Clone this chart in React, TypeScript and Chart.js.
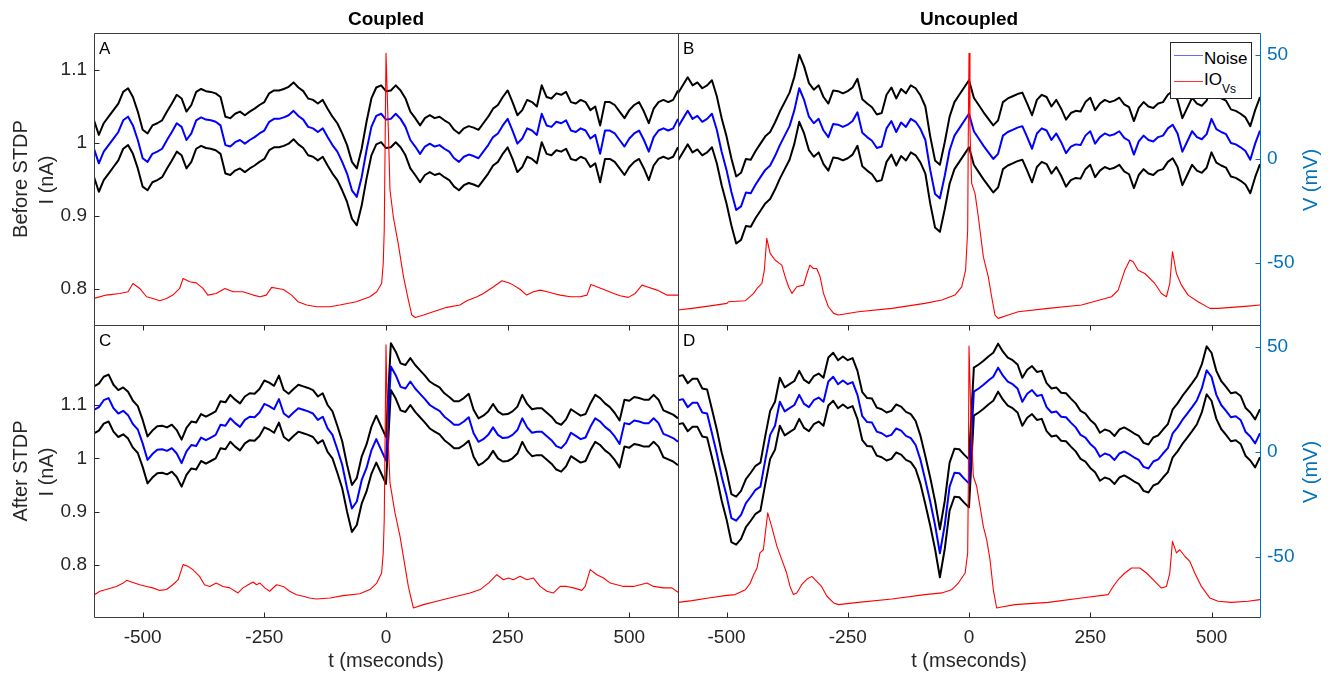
import React, { useEffect, useRef } from 'react';
import { Chart, registerables } from 'chart.js';

Chart.register(...registerables);

const W = 1333;
const H = 675;
const FONT = '"Liberation Sans", Arial, Helvetica, sans-serif';
const AXIS_COLOR = '#262626';
const FRAME_COLOR = '#3c3c3c';
const V_COLOR = '#0072BD';

// sampling of the noise traces (ms)
const T_START = -600;
const T_STEP = 10;

const xTickValues = [-500, -250, 0, 250, 500];
const iTickValues = [0.8, 0.9, 1, 1.1];
const vTickValues = [-50, 0, 50];

// ---- Noise mean current (nA), t = -600 .. 600 ms every 10 ms ----
const noiseA = [
  0.992, 0.972, 0.988, 0.997, 1.006, 1.015, 1.031, 1.036, 1.024, 1.004,
  0.979, 0.974, 0.985, 0.988, 0.992, 1.004, 1.015, 1.027, 1.022, 1.004,
  1.013, 1.031, 1.035, 1.032, 1.031, 1.029, 1.024, 0.997, 0.995, 1.001,
  1.004, 0.999, 1.004, 1.008, 1.013, 1.017, 1.029, 1.033, 1.033, 1.035,
  1.038, 1.044, 1.037, 1.032, 1.022, 1.020, 1.015, 1.020, 1.008, 0.997,
  0.988, 0.974, 0.958, 0.935, 0.926, 0.953, 0.990, 1.022, 1.037, 1.040,
  1.032,
  1.033, 1.040, 1.033, 1.022, 1.004, 0.995, 0.985, 0.995, 0.999, 0.995,
  0.997, 0.992, 0.988, 0.979, 0.974, 0.981, 0.984, 0.982, 0.979, 0.988,
  0.997, 1.008, 1.013, 1.024, 1.033, 1.017, 0.999, 1.006, 1.020, 1.017,
  1.011, 1.040, 1.024, 1.022, 1.029, 1.027, 1.031, 1.017, 1.015, 1.020,
  1.017, 1.006, 1.011, 0.985, 1.017, 1.017, 1.013, 1.004, 0.995, 1.006,
  1.013, 1.017, 1.004, 0.988, 1.008, 1.017, 1.020, 1.017, 1.020, 1.033,
];
const noiseB = [
  1.022, 1.033, 1.044, 1.033, 1.037, 1.029, 1.033, 1.040, 1.018, 0.988,
  0.963, 0.933, 0.908, 0.913, 0.932, 0.931, 0.943, 0.953, 0.963, 0.969,
  0.982, 0.997, 1.010, 1.023, 1.045, 1.075, 1.059, 1.036, 1.027, 1.033,
  1.017, 1.008, 1.026, 1.025, 1.022, 1.025, 1.030, 1.042, 1.014, 1.008,
  1.003, 0.993, 0.995, 1.020, 1.030, 1.015, 1.028, 1.022, 1.033, 1.029,
  1.019, 1.004, 0.963, 0.930, 0.924, 0.955, 0.990, 1.010, 1.020, 1.030,
  1.040,
  1.016, 1.006, 0.996, 0.987, 0.978, 0.985, 1.010, 1.015, 1.018, 1.021,
  1.023, 1.008, 0.992, 1.013, 1.020, 1.017, 1.004, 1.013, 1.001, 0.986,
  0.995, 0.998, 0.997, 1.010, 1.016, 0.999, 1.008, 1.013, 1.010, 1.012,
  1.016, 1.007, 1.003, 0.984, 1.002, 1.010, 1.004, 1.002, 1.008, 1.010,
  1.020, 1.025, 1.013, 0.988, 1.002, 1.016, 1.008, 1.005, 1.012, 1.033,
  1.019, 1.015, 1.012, 1.000, 0.998, 0.994, 0.989, 0.977, 0.999, 1.017,
];
const noiseC = [
  1.091, 1.096, 1.109, 1.113, 1.094, 1.084, 1.089, 1.081, 1.064, 1.054,
  1.028, 0.997, 1.008, 1.016, 1.017, 1.014, 1.019, 1.009, 0.991, 1.013,
  1.025, 1.023, 1.039, 1.034, 1.039, 1.044, 1.063, 1.061, 1.075, 1.066,
  1.059, 1.072, 1.078, 1.077, 1.086, 1.102, 1.098, 1.092, 1.111, 1.084,
  1.077, 1.086, 1.094, 1.091, 1.088, 1.084, 1.072, 1.078, 1.056, 1.044,
  1.017, 0.988, 0.944, 0.906, 0.919, 0.959, 0.982, 1.015, 1.036, 1.016,
  0.996,
  1.172, 1.156, 1.134, 1.131, 1.144, 1.131, 1.121, 1.111, 1.100, 1.094,
  1.089, 1.078, 1.071, 1.063, 1.063, 1.069, 1.077, 1.047, 1.031, 1.036,
  1.044, 1.058, 1.044, 1.038, 1.039, 1.044, 1.053, 1.075, 1.058, 1.048,
  1.050, 1.050, 1.042, 1.034, 1.023, 1.019, 1.029, 1.048, 1.042, 1.036,
  1.039, 1.059, 1.075, 1.069, 1.059, 1.052, 1.041, 1.027, 1.066, 1.064,
  1.071, 1.069, 1.066, 1.066, 1.075, 1.066, 1.046, 1.042, 1.038, 1.031,
];
const noiseD = [
  1.109, 1.111, 1.096, 1.104, 1.104, 1.086, 1.084, 1.047, 1.009, 0.966,
  0.931, 0.888, 0.883, 0.894, 0.916, 0.928, 0.941, 0.947, 0.997, 1.044,
  1.061, 1.106, 1.088, 1.094, 1.100, 1.119, 1.102, 1.096, 1.109, 1.114,
  1.106, 1.144, 1.153, 1.139, 1.146, 1.139, 1.143, 1.119, 1.079, 1.068,
  1.067, 1.050, 1.047, 1.041, 1.044, 1.056, 1.052, 1.042, 1.038, 1.025,
  0.997, 0.959, 0.919, 0.875, 0.822, 0.875, 0.947, 0.973, 0.972, 0.962,
  0.953,
  1.125, 1.131, 1.138, 1.146, 1.153, 1.170, 1.155, 1.144, 1.139, 1.131,
  1.106, 1.121, 1.128, 1.117, 1.119, 1.096, 1.086, 1.088, 1.078, 1.077,
  1.067, 1.058, 1.044, 1.039, 1.027, 1.019, 1.003, 1.009, 1.006, 0.997,
  1.009, 1.013, 1.008, 1.002, 0.997, 0.984, 0.981, 0.994, 0.998, 1.009,
  1.019, 1.047, 1.058, 1.072, 1.084, 1.096, 1.109, 1.131, 1.165, 1.153,
  1.119, 1.100, 1.089, 1.077, 1.079, 1.072, 1.050, 1.041, 1.028, 1.047,
];

// standard deviation of the noise (black traces = mean +/- sd)
const sdA = 0.039;
const sdB = 0.046;
const sdC = 0.044;
const sdD = 0.045;

// ---- IO soma voltage (mV): sample times (ms) and values ----
const ioAT = [
  -600, -575, -547, -530, -520, -506, -492, -479, -465, -451, -438, -424, -417, -403, -390, -376,
  -366, -349, -331, -314, -294, -273, -259, -246, -235, -222, -211, -194, -181, -163, -143, -115,
  -95, -61, -33, -19, -9, -5.7, -3.6, -1.5, 0, 4.8, 8.2, 15, 25, 36, 46, 53, 60, 77, 97, 125, 152,
  166, 187, 200, 221, 238, 252, 262, 276, 289, 303, 317, 331, 344, 358, 379, 399, 413, 421, 433,
  454, 468, 481, 498, 512, 526, 536, 557, 577, 600,
];
const ioAV = [
  -67.2, -65.6, -64.8, -64.0, -60.0, -62.4, -66.4, -67.2, -68.3, -67.2, -65.6, -62.4, -57.6, -59.2,
  -59.7, -62.4, -65.6, -64.8, -62.4, -64.0, -64.0, -65.6, -66.4, -65.6, -61.9, -62.4, -62.9, -65.6,
  -68.8, -70.4, -71.2, -71.2, -70.4, -68.8, -66.4, -64.0, -60.0, -50.4, -34.3, 13.9, 50.8, 13.9,
  -15.0, -27.9, -40.7, -56.8, -68.0, -75.2, -76.4, -75.2, -73.6, -71.5, -70.4, -68.3, -66.4, -64.8,
  -61.6, -58.7, -59.7, -60.8, -62.9, -65.6, -64.0, -63.2, -64.0, -64.8, -65.6, -66.4, -66.4, -65.6,
  -60.5, -61.6, -63.5, -64.8, -65.9, -66.7, -64.8, -60.8, -61.6, -63.2, -65.6, -65.6,
];
const ioBT = [
  -600, -571, -537, -499, -496, -461, -444, -437, -427, -422, -417, -410, -400, -386, -379, -372,
  -365, -355, -341, -334, -328, -321, -314, -307, -300, -290, -279, -269, -228, -159, -91, -56, -29,
  -15, -7, -2.7, -1.4, 0, 2, 5.5, 12.4, 19.2, 29.5, 39.8, 46.7, 53.6, 60.4, 81, 101.6, 163.4, 232,
  293.9, 307.6, 321.3, 331.6, 338.5, 348.8, 362.5, 383.1, 396.8, 407.1, 414, 419.5, 427.7, 438,
  451.8, 472.4, 496.4, 513.5, 541, 575.4, 600,
];
const ioBV = [
  -72.8, -72.0, -70.9, -69.6, -68.8, -68.3, -64.8, -62.4, -60.0, -53.6, -38.3, -45.5, -48.7, -51.2,
  -56.8, -61.6, -64.8, -61.6, -60.8, -55.2, -51.2, -52.8, -52.8, -56.8, -64.8, -71.2, -74.4, -75.2,
  -73.6, -72.0, -69.6, -68.0, -65.6, -61.6, -53.6, -34.3, 13.9, 50.8, 13.9, -11.8, -16.6, -27.9,
  -47.1, -56.8, -66.4, -75.2, -76.8, -75.2, -73.6, -72.0, -70.4, -66.4, -63.2, -53.6, -48.7, -49.5,
  -53.6, -55.2, -60.0, -64.8, -66.4, -60.0, -44.7, -55.2, -60.8, -65.6, -68.8, -72.0, -72.0, -71.5,
  -70.9, -70.4,
];
const ioCT = [
  -599, -588, -575, -554, -540, -533, -520, -506, -492, -479, -465, -451, -438, -427, -417, -407,
  -397, -383, -373, -362, -349, -335, -321, -304, -294, -283, -273, -266, -259, -249, -239, -225,
  -211, -198, -184, -170, -157, -143, -115, -88, -54, -33, -19, -9, -5.7, -3.6, -1.5, 0, 2.7, 8.2,
  18.5, 28.8, 39.1, 45.9, 56.2, 76.8, 104.2, 145.4, 172.8, 193.4, 210.5, 227.6, 241.4, 251.6, 261.9,
  275.6, 289.3, 303, 316.8, 330.5, 344.2, 357.9, 371.6, 385.3, 402.4, 409.3, 419.6, 433.3, 447,
  460.7, 474.4, 488.1, 508.7, 522.4, 536.1, 549.8, 570.4, 587.5, 600,
];
const ioCV = [
  -68.2, -66.5, -65.7, -64.2, -62.6, -61.3, -62.3, -63.4, -64.2, -64.9, -66.1, -65.7, -63.4, -61.0,
  -53.8, -54.6, -56.2, -59.4, -63.4, -64.2, -62.6, -64.2, -64.9, -67.3, -64.9, -63.4, -62.1, -63.4,
  -62.6, -64.9, -66.5, -63.4, -64.2, -66.5, -68.2, -68.9, -69.7, -70.2, -69.7, -68.6, -67.7, -65.7,
  -62.6, -57.8, -48.2, -32.3, 15.4, 51.2, 15.4, -14.8, -29.1, -40.3, -54.6, -64.2, -74.5, -72.9,
  -71.3, -68.9, -67.3, -65.7, -62.6, -58.6, -61.0, -60.2, -61.0, -59.4, -61.0, -60.2, -64.2, -66.5,
  -67.3, -64.2, -64.2, -64.9, -66.1, -64.2, -56.2, -58.6, -60.2, -62.6, -63.4, -64.2, -64.2, -63.4,
  -62.6, -64.2, -64.9, -64.9, -67.0,
];
const ioDT = [
  -600, -571, -537, -503, -482, -461, -451, -444, -437, -431, -424, -415, -407, -396, -386, -376,
  -369, -362, -355, -345, -334, -324, -314, -304, -293, -279, -269, -228, -159, -91, -56, -36, -22,
  -8, -2.7, -1.4, 0, 4.1, 8.9, 15.8, 22.7, 29.5, 36.4, 43.3, 50.1, 57, 67.3, 94.7, 163.4, 232.1,
  287, 297.3, 307.6, 321.3, 335.1, 352.2, 366, 383.1, 396.8, 407.1, 414, 419.5, 427.7, 434.6, 444.9,
  455.2, 465.5, 479.2, 496.4, 513.6, 541, 575.4, 600,
];
const ioDV = [
  -71.8, -71.0, -69.7, -68.6, -68.1, -65.8, -62.6, -58.6, -55.4, -48.2, -46.7, -29.1, -35.5, -45.1,
  -51.4, -57.8, -64.2, -68.1, -67.3, -63.4, -60.7, -59.4, -61.8, -64.2, -68.9, -72.1, -72.9, -71.8,
  -70.2, -68.1, -67.3, -65.8, -62.6, -57.8, -48.2, -16.4, 50.5, 15.4, -11.6, -16.4, -26.0, -35.5,
  -41.9, -51.4, -65.7, -74.5, -74.0, -72.9, -71.8, -69.7, -68.1, -64.2, -61.0, -57.8, -55.4, -55.4,
  -57.8, -61.8, -65.0, -64.2, -57.8, -42.7, -48.2, -46.7, -49.8, -52.2, -57.8, -64.2, -69.7, -71.3,
  -71.8, -71.3, -70.5,
];

const noiseTimes = noiseA.map((_, i) => T_START + i * T_STEP);

type Panel = {
  id: string;
  noise: number[];
  sd: number;
  ioT: number[];
  ioV: number[];
  area: [number, number, number, number];
  iRange: [number, number];
  vRange: [number, number];
  left: boolean;
  right: boolean;
  bottom: boolean;
};

const panels: Panel[] = [
  { id: 'A', noise: noiseA, sd: sdA, ioT: ioAT, ioV: ioAV, area: [94, 33, 678, 325], iRange: [0.7502, 1.1508], vRange: [-80, 60.6], left: true, right: false, bottom: false },
  { id: 'B', noise: noiseB, sd: sdB, ioT: ioBT, ioV: ioBV, area: [678, 33, 1260, 325], iRange: [0.7502, 1.1508], vRange: [-80, 60.6], left: false, right: true, bottom: false },
  { id: 'C', noise: noiseC, sd: sdC, ioT: ioCT, ioV: ioCV, area: [94, 325, 678, 617], iRange: [0.7025, 1.25], vRange: [-78.8, 60.6], left: true, right: false, bottom: true },
  { id: 'D', noise: noiseD, sd: sdD, ioT: ioDT, ioV: ioDV, area: [678, 325, 1260, 617], iRange: [0.7025, 1.25], vRange: [-78.8, 60.6], left: false, right: true, bottom: true },
];

// sizes reserved for the tick-label boxes of the axes
const LEFT_AXIS_W = 80;
const RIGHT_AXIS_W = 60;
const BOTTOM_AXIS_H = 40;

const framePlugin = {
  id: 'frame',
  afterDraw(chart: any, _args: any, o: any) {
    const { ctx, chartArea } = chart;
    const L = Math.floor(chartArea.left) + 0.5;
    const R = Math.floor(chartArea.right) + 0.5;
    const T = Math.floor(chartArea.top) + 0.5;
    const B = Math.floor(chartArea.bottom) + 0.5;
    const TL = 5;
    ctx.save();
    ctx.lineWidth = 1;
    ctx.strokeStyle = FRAME_COLOR;
    ctx.beginPath();
    ctx.moveTo(L, B);
    ctx.lineTo(L, T);
    ctx.lineTo(R, T);
    ctx.moveTo(L, B);
    ctx.lineTo(R, B);
    if (!o.right) {
      ctx.moveTo(R, T);
      ctx.lineTo(R, B);
    }
    ctx.stroke();
    if (o.left) {
      const s = chart.scales.i;
      ctx.strokeStyle = AXIS_COLOR;
      ctx.beginPath();
      for (const v of iTickValues) {
        const y = Math.round(s.getPixelForValue(v)) + 0.5;
        ctx.moveTo(L, y);
        ctx.lineTo(L + TL, y);
      }
      ctx.stroke();
    }
    if (o.right) {
      const s = chart.scales.v;
      ctx.strokeStyle = V_COLOR;
      ctx.beginPath();
      ctx.moveTo(R, T);
      ctx.lineTo(R, B);
      for (const v of vTickValues) {
        const y = Math.round(s.getPixelForValue(v)) + 0.5;
        ctx.moveTo(R - TL, y);
        ctx.lineTo(R, y);
      }
      ctx.stroke();
    }
    if (o.bottom) {
      const s = chart.scales.x;
      ctx.strokeStyle = AXIS_COLOR;
      ctx.beginPath();
      for (const v of xTickValues) {
        const x = Math.round(s.getPixelForValue(v)) + 0.5;
        ctx.moveTo(x, B);
        ctx.lineTo(x, B - TL);
        ctx.moveTo(x, T);
        ctx.lineTo(x, T + TL);
      }
      ctx.stroke();
    }
    ctx.restore();
  },
};

const toPoints = (xs: number[], ys: number[]) => {
  const n = Math.min(xs.length, ys.length);
  const out: { x: number; y: number }[] = [];
  for (let i = 0; i < n; i++) out.push({ x: xs[i], y: ys[i] });
  return out;
};

function PanelChart({ p }: { p: Panel }) {
  const ref = useRef<HTMLCanvasElement>(null);
  useEffect(() => {
    const canvas = ref.current;
    if (!canvas) return;
    const [l, t, r, b] = p.area;
    const upper = p.noise.map((v) => v + p.sd);
    const lower = p.noise.map((v) => v - p.sd);
    const tickFont = { family: FONT, size: 19 };
    const padding = {
      left: p.left ? l - LEFT_AXIS_W : l,
      top: t,
      right: p.right ? W - r - RIGHT_AXIS_W : W - r,
      bottom: p.bottom ? H - b - BOTTOM_AXIS_H : H - b,
    };
    const chart = new Chart(canvas, {
      type: 'line',
      data: {
        datasets: [
          { data: toPoints(p.ioT, p.ioV), yAxisID: 'v', borderColor: '#ff0000', borderWidth: 1.1 },
          { data: toPoints(noiseTimes, p.noise), yAxisID: 'i', borderColor: '#0000ff', borderWidth: 2 },
          { data: toPoints(noiseTimes, upper), yAxisID: 'i', borderColor: '#000000', borderWidth: 2 },
          { data: toPoints(noiseTimes, lower), yAxisID: 'i', borderColor: '#000000', borderWidth: 2 },
        ],
      },
      options: {
        responsive: false,
        animation: false,
        events: [],
        layout: { padding },
        elements: { point: { radius: 0 }, line: { tension: 0, borderJoinStyle: 'round' } },
        plugins: {
          legend: { display: false },
          tooltip: { enabled: false },
          frame: { left: p.left, right: p.right, bottom: p.bottom },
        } as any,
        scales: {
          x: {
            type: 'linear',
            min: -600,
            max: 600,
            display: p.bottom,
            grid: { display: false, drawTicks: false },
            border: { display: false },
            ticks: {
              padding: 9,
              color: AXIS_COLOR,
              font: tickFont,
              maxRotation: 0,
              autoSkip: false,
              callback: (v: any) => String(v),
            },
            afterBuildTicks: (s: any) => {
              s.ticks = xTickValues.map((value) => ({ value }));
            },
            afterFit: (s: any) => {
              s.height = p.bottom ? BOTTOM_AXIS_H : 0;
            },
          },
          i: {
            type: 'linear',
            position: 'left',
            min: p.iRange[0],
            max: p.iRange[1],
            display: p.left,
            grid: { display: false, drawTicks: false },
            border: { display: false },
            ticks: {
              padding: 7,
              color: AXIS_COLOR,
              font: tickFont,
              callback: (v: any) => String(Math.round(Number(v) * 100) / 100),
            },
            afterBuildTicks: (s: any) => {
              s.ticks = iTickValues.map((value) => ({ value }));
            },
            afterFit: (s: any) => {
              s.width = p.left ? LEFT_AXIS_W : 0;
            },
          },
          v: {
            type: 'linear',
            position: 'right',
            min: p.vRange[0],
            max: p.vRange[1],
            display: p.right,
            grid: { display: false, drawTicks: false },
            border: { display: false },
            ticks: {
              padding: 7,
              color: V_COLOR,
              font: tickFont,
              callback: (v: any) => String(v),
            },
            afterBuildTicks: (s: any) => {
              s.ticks = vTickValues.map((value) => ({ value }));
            },
            afterFit: (s: any) => {
              s.width = p.right ? RIGHT_AXIS_W : 0;
            },
          },
        },
      } as any,
      plugins: [framePlugin as any],
    });
    return () => chart.destroy();
  }, [p]);
  return (
    <canvas
      ref={ref}
      width={W}
      height={H}
      style={{ position: 'absolute', left: 0, top: 0, width: W, height: H }}
    />
  );
}

const textBase: React.CSSProperties = {
  position: 'absolute',
  fontFamily: FONT,
  whiteSpace: 'nowrap',
  lineHeight: 1,
  color: AXIS_COLOR,
};

// horizontal text centred on cx with a given baseline
function HText({ cx, base, size, bold, children, color }: any) {
  return (
    <div
      style={{
        ...textBase,
        left: cx,
        top: base - 0.8465 * size,
        fontSize: size,
        fontWeight: bold ? 'bold' : 'normal',
        transform: 'translateX(-50%)',
        color: color || textBase.color,
      }}
    >
      {children}
    </div>
  );
}

// text rotated -90deg, centred on (cx, cy)
function VText({ cx, cy, size, children, color }: any) {
  return (
    <div
      style={{
        ...textBase,
        left: cx,
        top: cy,
        fontSize: size,
        transform: 'translate(-50%, -50%) rotate(-90deg)',
        color: color || textBase.color,
      }}
    >
      {children}
    </div>
  );
}

function LText({ x, base, size, children }: any) {
  return (
    <div style={{ ...textBase, left: x, top: base - 0.8465 * size, fontSize: size, color: '#000' }}>
      {children}
    </div>
  );
}

export default function App() {
  return (
    <div style={{ position: 'absolute', left: 0, top: 0, width: W, height: H, background: '#ffffff', overflow: 'hidden' }}>
      {panels.map((p) => (
        <PanelChart key={p.id} p={p} />
      ))}

      <HText cx={386} base={25} size={19} bold color="#000">Coupled</HText>
      <HText cx={969} base={25} size={19} bold color="#000">Uncoupled</HText>

      <VText cx={20} cy={179} size={20}>Before STDP</VText>
      <VText cx={46} cy={180} size={20}>I (nA)</VText>
      <VText cx={20} cy={471} size={20}>After STDP</VText>
      <VText cx={46} cy={472} size={20}>I (nA)</VText>

      <VText cx={1310} cy={180} size={20} color={V_COLOR}>V (mV)</VText>
      <VText cx={1310} cy={472} size={20} color={V_COLOR}>V (mV)</VText>

      <HText cx={386} base={667} size={20}>t (mseconds)</HText>
      <HText cx={969} base={667} size={20}>t (mseconds)</HText>

      <LText x={99} base={54} size={17}>A</LText>
      <LText x={683} base={54} size={17}>B</LText>
      <LText x={99} base={346} size={17}>C</LText>
      <LText x={683} base={346} size={17}>D</LText>

      <div
        style={{
          position: 'absolute',
          left: 1170,
          top: 42,
          width: 82,
          height: 57,
          boxSizing: 'border-box',
          border: `1px solid ${AXIS_COLOR}`,
          background: '#ffffff',
        }}
      >
        <div style={{ position: 'absolute', left: 3, top: 12, width: 29, height: 1, background: '#6a6aff' }} />
        <div style={{ ...textBase, left: 33, top: 21 - 0.8465 * 17, fontSize: 17, color: '#000' }}>Noise</div>
        <div style={{ position: 'absolute', left: 3, top: 38, width: 29, height: 1, background: '#ff3030' }} />
        <div style={{ ...textBase, left: 33, top: 42 - 0.8465 * 17, fontSize: 17, color: '#000' }}>
          IO<span style={{ fontSize: 12, position: 'relative', top: 8 }}>Vs</span>
        </div>
      </div>
    </div>
  );
}
